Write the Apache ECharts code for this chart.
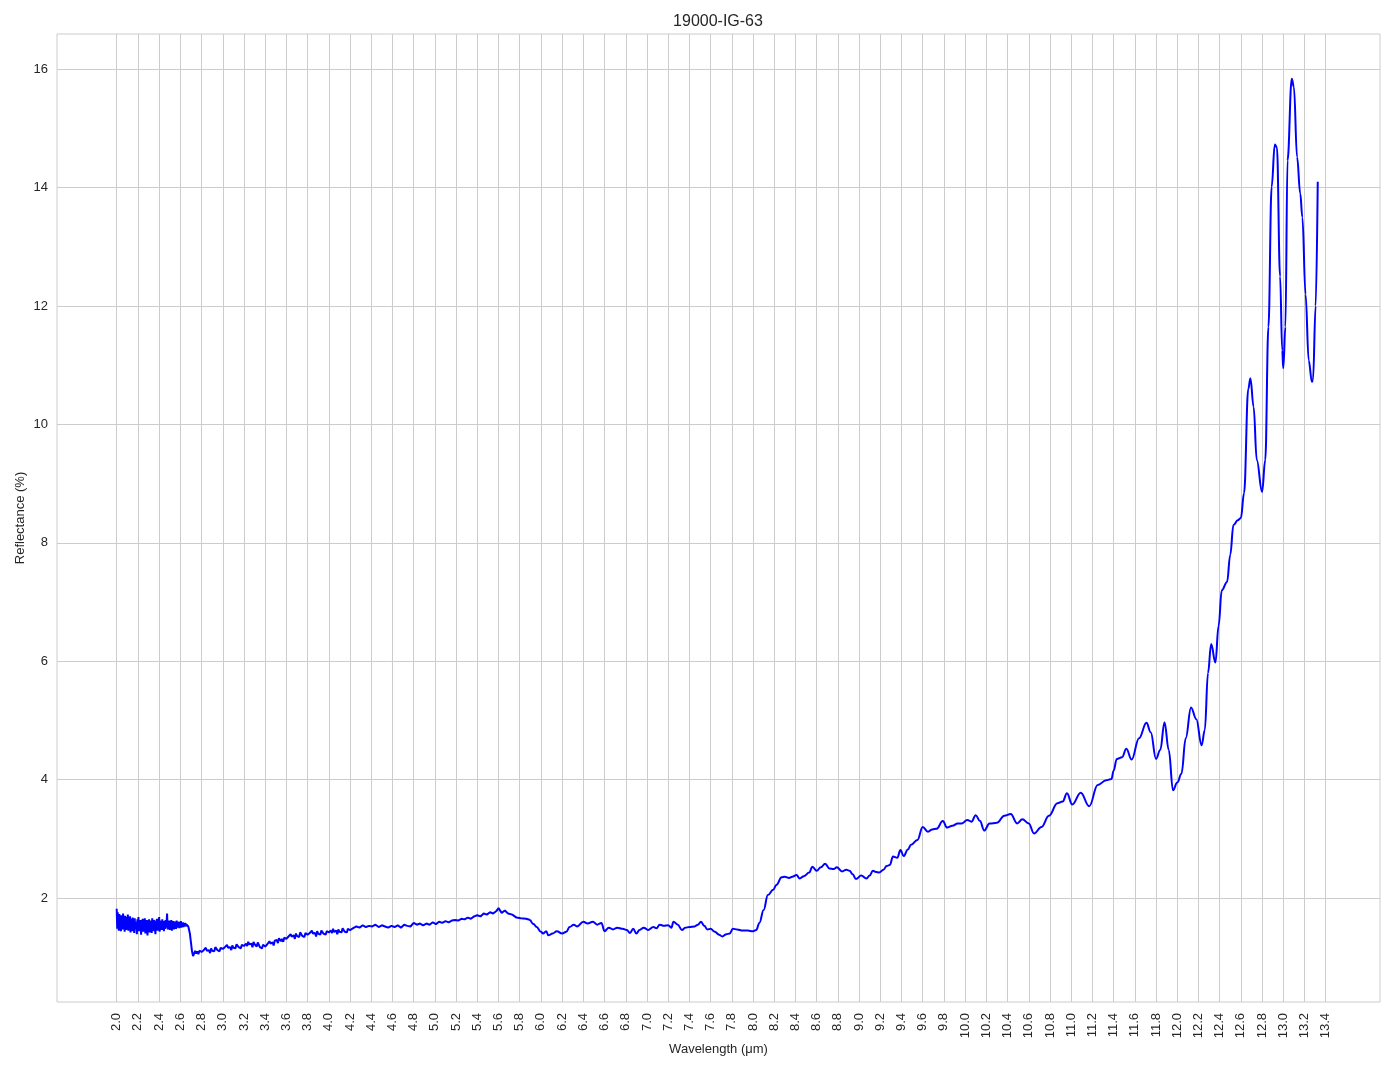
<!DOCTYPE html>
<html>
<head>
<meta charset="utf-8">
<script src="https://cdn.jsdelivr.net/npm/echarts@6/dist/echarts.min.js"></script>
<style>
html,body{margin:0;padding:0;background:#fff;}
#chart{width:1394px;height:1069px;}
</style>
</head>
<body>
<div id="chart"></div>
<script>
const chartTitle = '19000-IG-63';
const xAxisName = 'Wavelength (μm)';
const yAxisName = 'Reflectance (%)';
const xTicks = [2.0,2.2,2.4,2.6,2.8,3.0,3.2,3.4,3.6,3.8,4.0,4.2,4.4,4.6,4.8,5.0,5.2,5.4,5.6,5.8,6.0,6.2,6.4,6.6,6.8,7.0,7.2,7.4,7.6,7.8,8.0,8.2,8.4,8.6,8.8,9.0,9.2,9.4,9.6,9.8,10.0,10.2,10.4,10.6,10.8,11.0,11.2,11.4,11.6,11.8,12.0,12.2,12.4,12.6,12.8,13.0,13.2,13.4];
const yTicks = [2,4,6,8,10,12,14,16];

// noisy start (2.000 - 2.730)
const noisyStart = [
[2.000,1.82],[2.005,1.48],[2.010,1.76],[2.015,1.52],[2.020,1.45],[2.025,1.73],[2.030,1.50],[2.035,1.69],[2.040,1.44],[2.045,1.71],
[2.050,1.56],[2.055,1.47],[2.060,1.74],[2.065,1.49],[2.070,1.66],[2.075,1.43],[2.080,1.70],[2.085,1.58],[2.090,1.46],[2.095,1.68],
[2.100,1.51],[2.105,1.72],[2.110,1.45],[2.115,1.63],[2.120,1.48],[2.125,1.69],[2.130,1.42],[2.135,1.65],[2.140,1.55],[2.145,1.44],
[2.150,1.67],[2.155,1.50],[2.160,1.62],[2.165,1.41],[2.170,1.66],[2.175,1.47],[2.180,1.60],[2.185,1.53],[2.190,1.39],[2.195,1.64],
[2.200,1.49],[2.205,1.68],[2.210,1.44],[2.215,1.61],[2.220,1.46],[2.225,1.63],[2.230,1.38],[2.235,1.59],[2.240,1.52],[2.245,1.65],
[2.250,1.43],[2.255,1.62],[2.260,1.48],[2.265,1.66],[2.270,1.40],[2.275,1.58],[2.280,1.50],[2.285,1.63],[2.290,1.37],[2.295,1.60],
[2.300,1.46],[2.305,1.64],[2.310,1.42],[2.315,1.57],[2.320,1.51],[2.325,1.62],[2.330,1.41],[2.335,1.66],[2.340,1.47],[2.345,1.60],
[2.350,1.44],[2.355,1.63],[2.360,1.52],[2.365,1.39],[2.370,1.61],[2.375,1.48],[2.380,1.65],[2.385,1.45],[2.390,1.59],[2.395,1.50],
[2.400,1.68],[2.405,1.43],[2.410,1.62],[2.415,1.49],[2.420,1.58],[2.425,1.46],[2.430,1.64],[2.435,1.51],[2.440,1.57],[2.445,1.44],
[2.450,1.61],[2.455,1.48],[2.460,1.63],[2.465,1.50],[2.470,1.56],[2.475,1.74],[2.480,1.47],[2.485,1.60],[2.490,1.52],[2.495,1.62],
[2.500,1.46],[2.505,1.59],[2.510,1.50],[2.515,1.63],[2.520,1.45],[2.525,1.58],[2.530,1.51],[2.535,1.61],[2.540,1.47],[2.545,1.60],
[2.550,1.53],[2.555,1.57],[2.560,1.48],[2.565,1.62],[2.570,1.50],[2.575,1.58],[2.580,1.52],[2.585,1.60],[2.590,1.49],[2.595,1.57],
[2.600,1.53],[2.605,1.61],[2.610,1.50],[2.615,1.56],[2.620,1.52],[2.625,1.59],[2.630,1.51],[2.635,1.57],[2.640,1.53],[2.645,1.58],
[2.650,1.52],[2.655,1.56],[2.660,1.54],[2.665,1.55],[2.670,1.53],[2.675,1.52],[2.680,1.49],[2.690,1.40],[2.700,1.25],[2.710,1.10],
[2.720,1.02],[2.730,1.06]
];
// low plateau (2.74 - 4.20)
const lowPlateau = [
[2.74,1.11],[2.75,1.06],[2.76,1.10],[2.77,1.05],[2.78,1.11],[2.79,1.14],[2.80,1.09],[2.81,1.07],[2.82,1.12],[2.83,1.09],
[2.84,1.16],[2.85,1.11],[2.86,1.08],[2.87,1.12],[2.88,1.07],[2.89,1.15],[2.90,1.11],[2.91,1.14],[2.92,1.10],[2.93,1.17],
[2.94,1.16],[2.95,1.12],[2.96,1.15],[2.97,1.10],[2.98,1.16],[2.99,1.19],[3.00,1.14],[3.01,1.12],[3.02,1.17],[3.03,1.14],
[3.04,1.21],[3.05,1.16],[3.06,1.13],[3.07,1.17],[3.08,1.12],[3.09,1.20],[3.10,1.16],[3.11,1.19],[3.12,1.15],[3.13,1.22],
[3.14,1.21],[3.15,1.17],[3.16,1.20],[3.17,1.15],[3.18,1.21],[3.19,1.24],[3.20,1.19],[3.21,1.17],[3.22,1.23],[3.23,1.19],
[3.24,1.26],[3.25,1.22],[3.26,1.19],[3.27,1.23],[3.28,1.17],[3.29,1.26],[3.30,1.22],[3.31,1.24],[3.32,1.18],[3.33,1.25],
[3.34,1.23],[3.35,1.17],[3.36,1.20],[3.37,1.15],[3.38,1.21],[3.39,1.23],[3.40,1.18],[3.41,1.17],[3.42,1.22],[3.43,1.19],
[3.44,1.27],[3.45,1.23],[3.46,1.20],[3.47,1.25],[3.48,1.20],[3.49,1.28],[3.50,1.25],[3.51,1.29],[3.52,1.24],[3.53,1.32],
[3.54,1.31],[3.55,1.27],[3.56,1.31],[3.57,1.26],[3.58,1.33],[3.59,1.35],[3.60,1.31],[3.61,1.30],[3.62,1.35],[3.63,1.32],
[3.64,1.39],[3.65,1.35],[3.66,1.32],[3.67,1.37],[3.68,1.31],[3.69,1.40],[3.70,1.36],[3.71,1.39],[3.72,1.34],[3.73,1.42],
[3.74,1.41],[3.75,1.36],[3.76,1.39],[3.77,1.34],[3.78,1.41],[3.79,1.43],[3.80,1.38],[3.81,1.36],[3.82,1.41],[3.83,1.38],
[3.84,1.45],[3.85,1.40],[3.86,1.37],[3.87,1.41],[3.88,1.35],[3.89,1.44],[3.90,1.40],[3.91,1.43],[3.92,1.38],[3.93,1.45],
[3.94,1.44],[3.95,1.40],[3.96,1.43],[3.97,1.38],[3.98,1.44],[3.99,1.46],[4.00,1.42],[4.01,1.40],[4.02,1.45],[4.03,1.41],
[4.04,1.48],[4.05,1.43],[4.06,1.41],[4.07,1.45],[4.08,1.39],[4.09,1.47],[4.10,1.43],[4.11,1.46],[4.12,1.42],[4.13,1.49],
[4.14,1.48],[4.15,1.43],[4.16,1.46],[4.17,1.42],[4.18,1.48],[4.19,1.50],[4.20,1.46]
];
// gentle rise (4.23 - 5.90)
const gentleRise = [
[4.23,1.49],[4.26,1.52],[4.29,1.50],[4.32,1.54],[4.35,1.51],[4.38,1.53],[4.41,1.52],[4.44,1.55],[4.47,1.51],[4.50,1.54],
[4.53,1.52],[4.56,1.50],[4.59,1.53],[4.62,1.51],[4.65,1.54],[4.68,1.50],[4.71,1.55],[4.74,1.53],[4.77,1.52],[4.80,1.58],
[4.83,1.55],[4.86,1.57],[4.89,1.54],[4.92,1.57],[4.95,1.55],[4.98,1.59],[5.01,1.56],[5.04,1.60],[5.07,1.58],[5.10,1.61],
[5.13,1.59],[5.16,1.62],[5.19,1.63],[5.22,1.62],[5.25,1.65],[5.28,1.64],[5.31,1.67],[5.34,1.65],[5.37,1.69],[5.40,1.71],
[5.43,1.69],[5.46,1.74],[5.49,1.72],[5.52,1.76],[5.55,1.74],[5.58,1.78],[5.60,1.83],[5.63,1.75],[5.66,1.79],[5.69,1.74],
[5.73,1.72],[5.77,1.67],[5.81,1.66],[5.86,1.65],[5.90,1.63]
];
// middle wiggles (5.90 - 8.03)
const middleBand = [
[5.90,1.63],[5.93,1.56],[5.96,1.51],[6.00,1.43],[6.02,1.40],[6.05,1.44],[6.07,1.37],[6.11,1.40],[6.15,1.44],[6.20,1.40],
[6.24,1.43],[6.27,1.51],[6.31,1.55],[6.34,1.52],[6.40,1.60],[6.44,1.57],[6.49,1.60],[6.53,1.55],[6.57,1.58],[6.60,1.44],
[6.64,1.50],[6.68,1.47],[6.72,1.50],[6.77,1.48],[6.81,1.46],[6.84,1.41],[6.87,1.48],[6.90,1.40],[6.93,1.46],[6.97,1.50],
[7.01,1.46],[7.06,1.51],[7.09,1.49],[7.12,1.55],[7.16,1.53],[7.20,1.54],[7.23,1.50],[7.25,1.60],[7.29,1.55],[7.33,1.46],
[7.36,1.50],[7.40,1.51],[7.45,1.52],[7.48,1.55],[7.51,1.60],[7.54,1.53],[7.57,1.47],[7.60,1.48],[7.64,1.43],[7.68,1.38],
[7.71,1.35],[7.75,1.39],[7.78,1.40],[7.81,1.48],[7.85,1.47],[7.90,1.45],[7.95,1.45],[8.00,1.44],[8.03,1.46]
];
// long-wave rise (8.06 - 13.325)
const longWave = [
[8.06,1.58],[8.10,1.80],[8.14,2.05],[8.19,2.14],[8.22,2.22],[8.27,2.35],[8.30,2.36],[8.34,2.34],[8.37,2.36],[8.41,2.39],
[8.44,2.33],[8.48,2.37],[8.53,2.43],[8.56,2.53],[8.60,2.46],[8.64,2.52],[8.68,2.58],[8.72,2.50],[8.76,2.49],[8.79,2.52],
[8.84,2.45],[8.88,2.48],[8.91,2.46],[8.94,2.40],[8.97,2.32],[9.02,2.38],[9.07,2.33],[9.10,2.38],[9.13,2.46],[9.16,2.44],
[9.19,2.43],[9.23,2.48],[9.26,2.54],[9.29,2.56],[9.32,2.70],[9.36,2.68],[9.39,2.81],[9.42,2.71],[9.46,2.82],[9.49,2.90],
[9.55,2.98],[9.60,3.20],[9.65,3.12],[9.69,3.16],[9.73,3.17],[9.79,3.30],[9.83,3.19],[9.88,3.22],[9.93,3.26],[9.97,3.26],
[10.02,3.32],[10.06,3.29],[10.10,3.40],[10.14,3.30],[10.18,3.14],[10.23,3.26],[10.30,3.27],[10.37,3.39],[10.43,3.42],[10.49,3.26],
[10.54,3.33],[10.60,3.26],[10.65,3.09],[10.72,3.20],[10.79,3.39],[10.87,3.60],[10.92,3.63],[10.96,3.77],[11.01,3.58],[11.09,3.78],
[11.17,3.55],[11.25,3.91],[11.33,3.99],[11.38,4.01],[11.40,4.15],[11.43,4.35],[11.48,4.38],[11.52,4.52],[11.57,4.34],[11.64,4.70],
[11.71,4.96],[11.75,4.80],[11.80,4.35],[11.84,4.50],[11.88,4.97],[11.92,4.50],[11.96,3.82],[12.00,3.95],[12.04,4.10],[12.08,4.70],
[12.13,5.22],[12.18,5.02],[12.23,4.58],[12.26,4.84],[12.29,5.80],[12.32,6.29],[12.36,5.98],[12.39,6.60],[12.42,7.20],[12.47,7.34],
[12.50,7.80],[12.53,8.30],[12.57,8.38],[12.60,8.42],[12.63,8.84],[12.67,10.60],[12.69,10.78],[12.72,10.30],[12.75,9.40],[12.80,8.86],
[12.83,9.40],[12.86,11.65],[12.89,14.01],[12.92,14.73],[12.94,14.68],[12.97,12.50],[12.99,11.25],[13.00,10.95],[13.02,11.65],[13.04,14.46],
[13.08,15.84],[13.10,15.70],[13.13,14.52],[13.16,13.90],[13.18,13.50],[13.21,12.20],[13.24,11.08],[13.27,10.72],[13.28,10.75],[13.305,12.0],
[13.325,14.1]
];

const FONT = '"Liberation Sans", Arial, sans-serif';
const TXT = '#262626';
const GRIDC = '#cccccc';

const chart = echarts.init(document.getElementById('chart'), null, {renderer: 'canvas'});
chart.setOption({
  animation: false,
  backgroundColor: '#ffffff',
  title: {
    text: chartTitle,
    left: 718,
    top: 14,
    padding: 0,
    textAlign: 'center',
    textStyle: {fontFamily: FONT, fontSize: 16, fontWeight: 'normal', color: TXT}
  },
  grid: {
    left: 57, right: 14, top: 34, bottom: 67,
    containLabel: false,
    outerBoundsMode: 'none',
    show: true,
    borderColor: GRIDC,
    borderWidth: 1,
    backgroundColor: 'transparent'
  },
  xAxis: {
    type: 'value',
    min: 1.437,
    max: 13.912,
    name: xAxisName,
    nameLocation: 'middle',
    nameGap: 41,
    nameMoveOverlap: false,
    nameTextStyle: {fontFamily: FONT, fontSize: 13, color: TXT},
    axisLine: {show: false},
    axisTick: {show: false, customValues: xTicks},
    axisLabel: {
      customValues: xTicks,
      rotate: 90,
      margin: 11,
      fontFamily: FONT, fontSize: 13, color: TXT,
      formatter: v => Number(v).toFixed(1)
    },
    splitLine: {show: true, lineStyle: {color: GRIDC, width: 1}}
  },
  yAxis: {
    type: 'value',
    min: 0.244,
    max: 16.596,
    name: yAxisName,
    nameLocation: 'middle',
    nameGap: 30,
    nameMoveOverlap: false,
    nameTextStyle: {fontFamily: FONT, fontSize: 13, color: TXT},
    axisLine: {show: false},
    axisTick: {show: false, customValues: yTicks},
    axisLabel: {
      customValues: yTicks,
      margin: 9,
      fontFamily: FONT, fontSize: 13, color: TXT,
      formatter: v => String(Math.round(v))
    },
    splitLine: {show: true, lineStyle: {color: GRIDC, width: 1}}
  },
  series: [
    {
      type: 'line',
      data: noisyStart.concat(lowPlateau, gentleRise),
      showSymbol: false,
      symbol: 'none',
      lineStyle: {color: '#0000ff', width: 2},
      z: 3
    },
    {
      type: 'line',
      data: middleBand.concat(longWave),
      showSymbol: false,
      symbol: 'none',
      smooth: 0.4,
      smoothMonotone: 'x',
      lineStyle: {color: '#0000ff', width: 2},
      z: 3
    }
  ]
});
</script>
</body>
</html>
